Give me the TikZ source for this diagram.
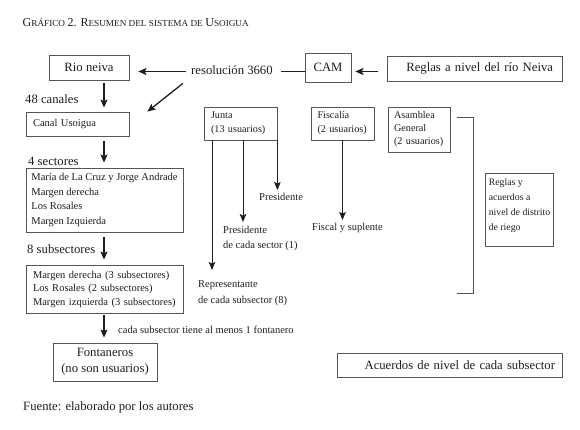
\documentclass[tikz,border=0pt]{standalone}
\usepackage{fontspec}
\setmainfont{Liberation Serif}
\usetikzlibrary{arrows.meta,calc}
\definecolor{boxgray}{HTML}{555555}
\definecolor{ink}{HTML}{1E1E1E}
\newcommand\capA[1]{{\fontsize{12}{12}\selectfont #1}}
\newcommand\capB[1]{{\fontsize{9.2}{9.2}\selectfont #1}}
\tikzset{
  box/.style={draw=boxgray, line width=0.8pt, inner ysep=0pt},
  big/.style={font=\fontsize{12.7}{16}\selectfont, text=ink},
  sm/.style={font=\fontsize{10.5}{14}\selectfont, text=ink},
  smr/.style={font=\fontsize{10.2}{14}\selectfont, text=ink},
  arr/.style={-{Stealth[length=8pt,width=7pt,inset=1.5pt]}, line width=1.3pt, draw=ink},
  arrthin/.style={-{Stealth[length=8pt,width=6.5pt,inset=1.5pt]}, line width=0.9pt, draw=ink},
  plainline/.style={line width=1.3pt, draw=ink},
  brk/.style={line width=0.8pt, draw=boxgray},
  lbl/.style={inner sep=0pt}
}
\begin{document}
\begin{tikzpicture}[x=1pt,y=-1pt]
\path[fill=white] (0,0) rectangle (580,430);
\useasboundingbox (0,0) rectangle (580,430);

% title
\node[lbl, anchor=base west, text=ink] (title) at (22.5,27)
  {\capA{G}\capB{RÁFICO} \capA{2. R}\capB{ESUMEN DEL SISTEMA DE} \capA{U}\capB{SOIGUA}};

% top row
\coordinate (r1) at (0,71.5);
\coordinate (ax) at (104,0);
\node[box, big, minimum width=80, minimum height=25] (rio) at (89,67.5) {Rio neiva};
\node[big, lbl, anchor=base west] (res) at (191,75) {resolución 3660};
\node[box, big, minimum width=46, minimum height=29, inner xsep=0pt] (cam) at (328,67.5) {CAM};
\node[box, big, minimum height=25, text width=157, align=right, inner xsep=9] (reg) at (474.5,68.5) {Reglas a nivel del río Neiva};

\draw[arr, shorten <=5, shorten >=9] (res.west |- r1) -- (rio.east |- r1);
\draw[plainline, shorten <=8] (res.east |- r1) -- (cam.west |- r1);
\draw[arr, shorten <=9, shorten >=4] (reg.west |- r1) -- (cam.east |- r1);

% left column
\node[box, sm, text width=89, align=left, inner xsep=7, minimum height=24] (canal) at (77.5,124) {Canal Usoigua};
\node[box, font=\fontsize{10.5}{14.7}\selectfont, text=ink, align=left, minimum width=157, minimum height=64, inner xsep=5] (sect) at (104.5,200)
  {María de La Cruz y Jorge Andrade\\Margen derecha\\Los Rosales\\Margen Izquierda};
\node[box, font=\fontsize{10.5}{13.5}\selectfont, text=ink, text width=143, align=left, inner xsep=7, minimum height=48] (subs) at (104.5,289)
  {Margen derecha (3 subsectores)\\Los Rosales (2 subsectores)\\Margen izquierda (3 subsectores)};
\node[box, big, align=center, minimum width=104, minimum height=38] (fonta) at (105,362) {Fontaneros\\(no son usuarios)};

\node[big, lbl, anchor=base west] (l48) at (25,103.5) {48 canales};
\node[big, lbl, anchor=base west] (l4) at (28,166) {4 sectores};
\node[big, lbl, anchor=base west] (l8) at (27,253) {8 subsectores};
\node[sm, lbl, anchor=base west] (lcada) at (118,333) {cada subsector tiene al menos 1 fontanero};

\draw[arr, shorten <=3, shorten >=4] (rio.south -| ax) -- (canal.north -| ax);
\draw[arr, shorten <=5, shorten >=5] (canal.south -| ax) -- (sect.north -| ax);
\draw[arr, shorten <=5, shorten >=5] (sect.south -| ax) -- (subs.north -| ax);
\draw[arr, shorten <=2, shorten >=5] (subs.south -| ax) -- (fonta.north -| ax);
\draw[arr] ($(res.south west)+(-8,8)$) -- ($(canal.north east)+(18,0)$);

% organisation boxes
\node[box, smr, text width=59, align=left, inner xsep=7, minimum height=33] (junta) at (240.5,123.5) {Junta\\(13 usuarios)};
\node[box, smr, text width=50, align=left, inner xsep=6.5, minimum height=33] (fisc) at (342.5,123.5) {Fiscalía\\(2 usuarios)};
\node[box, font=\fontsize{10.2}{13}\selectfont, text=ink, text width=50, align=left, inner xsep=6, minimum height=45] (asam) at (419,129.5) {Asamblea\\General\\(2 usuarios)};
\node[box, font=\fontsize{9.8}{15}\selectfont, text=ink, align=left, minimum width=67, minimum height=73, inner xsep=3] (rya) at (519.5,209.5)
  {Reglas y\\acuerdos a\\nivel de distrito\\de riego\rule[-10pt]{0pt}{0pt}};

% junta / fiscalia labels
\coordinate (ja) at (212,0);
\coordinate (jb) at (243,0);
\node[sm, lbl, anchor=north west, align=left, font=\fontsize{10.5}{16.5}\selectfont] (rep) at (198,280) {Representante\\de cada subsector (8)};
\node[sm, lbl, anchor=north west, align=left, font=\fontsize{10.5}{15.5}\selectfont] (psec) at (223,226) {Presidente\\de cada sector (1)};
\node[sm, lbl, anchor=north west] (pres) at (259,193) {Presidente};
\node[sm, lbl, anchor=north west] (fsup) at (312,223) {Fiscal y suplente};

\draw[arrthin, shorten >=10] (junta.south -| ja) -- (rep.north -| ja);
\draw[arrthin, shorten >=4] (junta.south -| jb) -- (psec.north -| jb);
\draw[arrthin, shorten >=3] (junta.south east) -- (pres.north -| junta.south east);
\draw[arrthin, shorten >=3] (fisc.south) -- (fsup.north -| fisc.south);

% bracket
\coordinate (bk) at (457,293);
\draw[brk] ($(asam.north east)+(7,11)$) -- ++(16,0) |- (bk);

% bottom right
\node[box, big, text width=211, align=right, inner xsep=7, minimum height=24] (acu) at (449.5,365) {Acuerdos de nivel de cada subsector};

% source
\node[big, lbl, anchor=base west] (src) at (23,410) {Fuente: elaborado por los autores};
\end{tikzpicture}
\end{document}
